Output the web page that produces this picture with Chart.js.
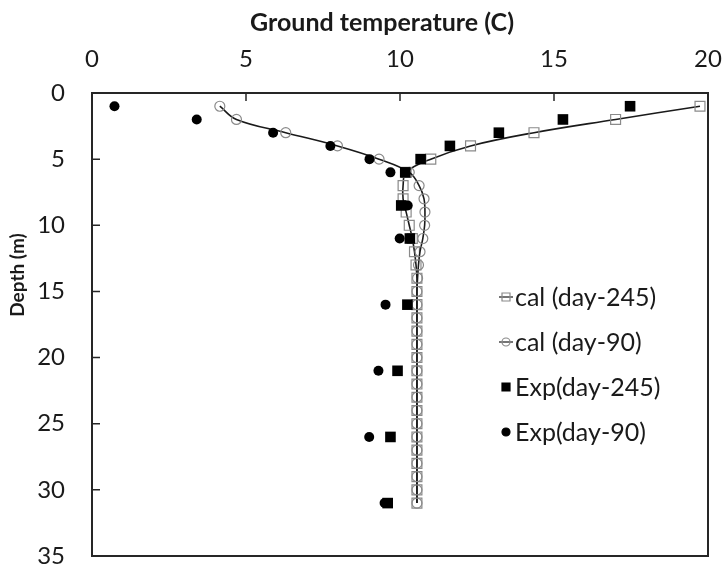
<!DOCTYPE html>
<html>
<head>
<meta charset="utf-8">
<script src="https://cdn.jsdelivr.net/npm/chart.js@4"></script>
<style>
  html, body { margin: 0; padding: 0; background: #fff; }
  #wrap { width: 723px; height: 567px; }
</style>
</head>
<body>
<div id="wrap"><canvas id="chart" width="723" height="567"></canvas></div>
<script>
// depth (m) of the calculated profiles
const depthCal = [1, 2, 3, 4, 5, 6, 7, 8, 9, 10, 11, 12, 13, 14, 15, 16, 17, 18, 19, 20,
  21, 22, 23, 24, 25, 26, 27, 28, 29, 30, 31];
const calDay245 = [19.74, 17.0, 14.35, 12.29, 11.0, 10.2, 10.1, 10.1, 10.2, 10.3, 10.4, 10.47, 10.52,
  10.55, 10.55, 10.55, 10.55, 10.55, 10.55, 10.55, 10.55, 10.55, 10.55, 10.55, 10.55, 10.55,
  10.55, 10.55, 10.55, 10.55, 10.55];
const calDay90 = [4.15, 4.69, 6.29, 7.97, 9.32, 10.3, 10.62, 10.78, 10.81, 10.8, 10.74, 10.65, 10.6,
  10.57, 10.55, 10.55, 10.55, 10.55, 10.55, 10.55, 10.55, 10.55, 10.55, 10.55, 10.55, 10.55,
  10.55, 10.55, 10.55, 10.55, 10.55];

// measured points
const depthExp = [1, 2, 3, 4, 5, 6, 8.5, 11, 16, 21, 26, 31];
const expDay245 = [17.47, 15.29, 13.21, 11.62, 10.67, 10.17, 10.04, 10.32, 10.24, 9.92, 9.69, 9.6];
const expDay90 = [0.73, 3.40, 5.88, 7.74, 9.01, 9.69, 10.25, 9.99, 9.53, 9.3, 9.0, 9.5];

const xTicks = [0, 5, 10, 15, 20];
const yTicks = [0, 5, 10, 15, 20, 25, 30, 35];
const seriesNames = ['cal (day-245)', 'cal (day-90)', 'Exp(day-245)', 'Exp(day-90)'];

const xTitle = 'Ground temperature (C)';
const yTitle = 'Depth (m)';

const toPoints = (xs, ys) => xs.map((v, i) => ({ x: v, y: ys[i] }));

const ink = '#1a1a1a';
const openGrey = '#8a8a8a';
const fontFamily = 'Lato, "Open Sans", sans-serif';

// frame, inner ticks, axis titles and legend drawn on top
const decorations = {
  id: 'decorations',
  afterDraw(chart) {
    const { ctx, chartArea: a, scales } = chart;
    ctx.save();
    ctx.strokeStyle = '#262626';
    ctx.lineWidth = 2;
    ctx.strokeRect(a.left, a.top, a.right - a.left, a.bottom - a.top);

    ctx.lineWidth = 1.5;
    ctx.beginPath();
    xTicks.forEach(t => {
      const px = scales.x.getPixelForValue(t);
      ctx.moveTo(px, a.top);
      ctx.lineTo(px, a.top + 8);
    });
    yTicks.forEach(t => {
      const py = scales.y.getPixelForValue(t);
      ctx.moveTo(a.left, py);
      ctx.lineTo(a.left + 8, py);
    });
    ctx.stroke();

    ctx.fillStyle = ink;
    ctx.font = 'bold 25px ' + fontFamily;
    ctx.textAlign = 'center';
    ctx.textBaseline = 'alphabetic';
    ctx.fillText(xTitle, 382, 31);

    ctx.save();
    ctx.translate(24, 275);
    ctx.rotate(-Math.PI / 2);
    ctx.font = 'bold 19px ' + fontFamily;
    ctx.fillText(yTitle, 0, 0);
    ctx.restore();

    // legend
    const rows = [297, 342, 387, 432];
    const iconX = 506;
    ctx.font = '25px ' + fontFamily;
    ctx.textAlign = 'left';
    ctx.textBaseline = 'middle';
    chart.data.datasets.forEach((ds, i) => {
      const y = rows[i];
      ctx.fillStyle = ink;
      ctx.fillText(ds.label, 515, y + 1);
      if (ds.showLine) {
        ctx.strokeStyle = ink;
        ctx.lineWidth = 1.2;
        ctx.beginPath();
        ctx.moveTo(iconX - 7, y);
        ctx.lineTo(iconX + 7, y);
        ctx.stroke();
      }
      ctx.lineWidth = 1.2;
      ctx.strokeStyle = ds.pointBorderColor;
      ctx.fillStyle = ds.pointBackgroundColor;
      ctx.beginPath();
      if (ds.pointStyle === 'rect') {
        ctx.rect(iconX - 4, y - 4, 8, 8);
      } else {
        ctx.arc(iconX, y, 4, 0, Math.PI * 2);
      }
      ctx.fill();
      ctx.stroke();
    });
    ctx.restore();
  }
};

new Chart(document.getElementById('chart'), {
  type: 'scatter',
  data: {
    datasets: [
      {
        label: seriesNames[0],
        data: toPoints(calDay245, depthCal),
        showLine: true,
        tension: 0.4,
        borderColor: ink,
        borderWidth: 1.6,
        pointStyle: 'rect',
        pointRadius: 7,
        pointBorderColor: openGrey,
        pointBackgroundColor: 'rgba(255,255,255,0)',
        pointBorderWidth: 1.2,
        order: 2
      },
      {
        label: seriesNames[1],
        data: toPoints(calDay90, depthCal),
        showLine: true,
        tension: 0.4,
        borderColor: ink,
        borderWidth: 1.6,
        pointStyle: 'circle',
        pointRadius: 5,
        pointBorderColor: openGrey,
        pointBackgroundColor: 'rgba(255,255,255,0)',
        pointBorderWidth: 1.2,
        order: 1
      },
      {
        label: seriesNames[2],
        data: toPoints(expDay245, depthExp),
        showLine: false,
        pointStyle: 'rect',
        pointRadius: 7.5,
        pointBorderColor: '#000',
        pointBackgroundColor: '#000',
        pointBorderWidth: 0,
        order: 0
      },
      {
        label: seriesNames[3],
        data: toPoints(expDay90, depthExp),
        showLine: false,
        pointStyle: 'circle',
        pointRadius: 5,
        pointBorderColor: '#000',
        pointBackgroundColor: '#000',
        pointBorderWidth: 0,
        order: 0
      }
    ]
  },
  options: {
    responsive: false,
    animation: false,
    devicePixelRatio: 1,
    layout: { padding: { left: 0, top: 0, right: 15, bottom: 11 } },
    plugins: {
      legend: { display: false },
      tooltip: { enabled: false }
    },
    scales: {
      x: {
        type: 'linear',
        position: 'top',
        min: 0,
        max: 20,
        afterBuildTicks: s => { s.ticks = xTicks.map(v => ({ value: v })); },
        afterFit: s => { s.height = 93; s.paddingLeft = 0; s.paddingRight = 0; },
        ticks: { color: ink, padding: 19, font: { family: fontFamily, size: 24 } },
        grid: { display: false, drawTicks: false },
        border: { display: false }
      },
      y: {
        type: 'linear',
        reverse: true,
        min: 0,
        max: 35,
        afterBuildTicks: s => { s.ticks = yTicks.map(v => ({ value: v })); },
        afterFit: s => { s.width = 92; s.paddingTop = 0; s.paddingBottom = 0; },
        ticks: { color: ink, padding: 27, font: { family: fontFamily, size: 24 } },
        grid: { display: false, drawTicks: false },
        border: { display: false }
      }
    }
  },
  plugins: [decorations]
});
</script>
</body>
</html>
